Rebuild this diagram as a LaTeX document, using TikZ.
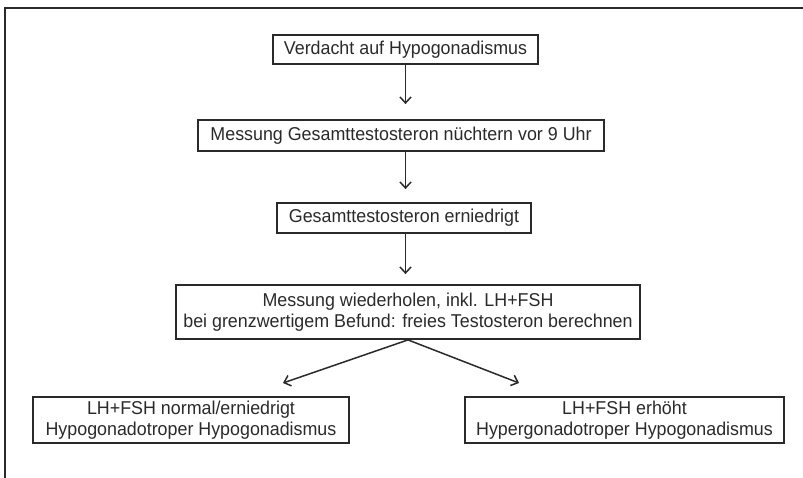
\documentclass[tikz,border=0pt]{standalone}
\usepackage{fontspec}
\setmainfont{Liberation Sans}[FakeStretch=0.96]
\usetikzlibrary{arrows.meta}
\definecolor{ink}{HTML}{2A2A2A}
\tikzset{
  kasten/.style={draw=ink, line width=1.8pt, text=ink, align=center, inner sep=0pt,
    font=\fontsize{18.6}{21.5}\selectfont},
  pfeil/.style={draw=ink, line width=1.5pt,
    -{Straight Barb[length=6pt,width=11pt,line width=1.5pt]}},
}
\begin{document}
\begin{tikzpicture}[x=1pt,y=-1pt]
\useasboundingbox (0,0) rectangle (803,478);
% Rahmen (oben und links)
\draw[ink,line width=2pt] (803,8) -- (5,8) -- (5,478);

\node[kasten,minimum width=265,minimum height=29] (verdacht) at (405.5,49.5) {Verdacht auf Hypogonadismus};
\node[kasten,minimum width=406,minimum height=31] (messung) at (401,135.5) {Messung Gesamttestosteron nüchtern vor 9 Uhr};
\node[kasten,minimum width=254,minimum height=30] (erniedrigt) at (404,218) {Gesamttestosteron erniedrigt};
\node[kasten,minimum width=464,minimum height=54] (wiederholen) at (408,312)
  {Messung wiederholen, inkl. LH+FSH\\bei grenzwertigem Befund: freies Testosteron berechnen};
\node[kasten,minimum width=316,minimum height=46] (hypo) at (191,420)
  {LH+FSH normal/erniedrigt\\Hypogonadotroper Hypogonadismus};
\node[kasten,minimum width=319,minimum height=46] (hyper) at (624.5,420)
  {LH+FSH erhöht\\Hypergonadotroper Hypogonadismus};

\coordinate (links) at (283,383);
\coordinate (rechts) at (519,383);

\draw[pfeil,shorten >=15pt] (verdacht.south) -- (verdacht.south |- messung.north);
\draw[pfeil,shorten >=13pt] (verdacht.south |- messung.south) -- (verdacht.south |- erniedrigt.north);
\draw[pfeil,shorten >=10pt] (verdacht.south |- erniedrigt.south) -- (verdacht.south |- wiederholen.north);
\draw[pfeil] (wiederholen.south) -- (links);
\draw[pfeil] (wiederholen.south) -- (rechts);
\end{tikzpicture}
\end{document}
